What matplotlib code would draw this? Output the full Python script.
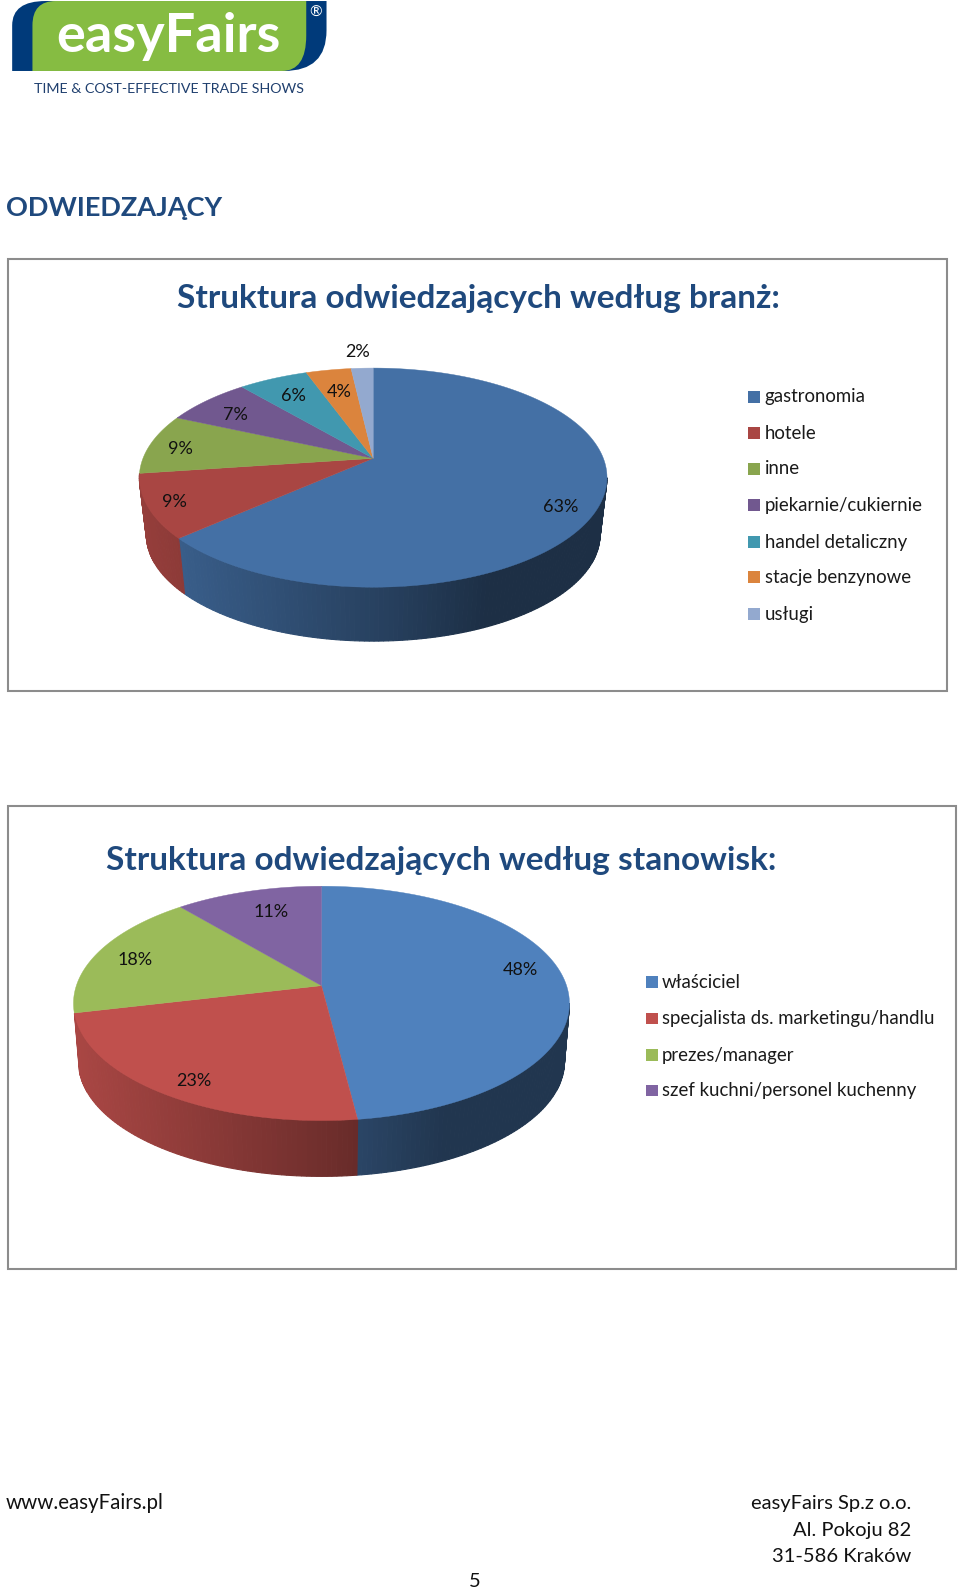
import numpy as np
import matplotlib
matplotlib.use('Agg')
import matplotlib.pyplot as plt
from matplotlib.path import Path
from matplotlib.patches import PathPatch, Rectangle
from matplotlib.colors import to_rgb

plt.rcParams['font.family'] = ['Lato', 'Open Sans', 'DejaVu Sans']

# top chart data
branze = ['gastronomia', 'hotele', 'inne', 'piekarnie/cukiernie',
          'handel detaliczny', 'stacje benzynowe', 'usługi']
branze_values = [63.4, 9.4, 8.9, 7.1, 5.7, 3.7, 1.8]
branze_colors = ['#4470A5', '#A94643', '#89A54E', '#71588F', '#4198AF', '#DB843D', '#93A9CF']

# bottom chart data
stanowiska = ['właściciel', 'specjalista ds. marketingu/handlu',
              'prezes/manager', 'szef kuchni/personel kuchenny']
stanowiska_values = [48.0, 23.3, 17.6, 11.1]
stanowiska_colors = ['#4F81BD', '#C0504D', '#9BBB59', '#8064A2']

NAVY = '#1F497D'

fig = plt.figure(figsize=(9.6, 15.89), dpi=100)
ax = fig.add_axes([0, 0, 1, 1])
ax.set_xlim(0, 946.7)
ax.set_ylim(1567, 0)
ax.axis('off')


def project(angle, g):
    # circle seen in perspective, angle runs clockwise from the top
    u, v = np.sin(angle), np.cos(angle)
    w = 1 + g['k'] * v
    return g['R'] * u / w, -g['S'] * v / w


def pie3d(values, colors, g):
    cum = np.cumsum([0] + list(values)) / sum(values) * 2 * np.pi
    # only the front part of the wall is visible
    a_right = np.arccos(-g['k'])
    a_left = 2 * np.pi - np.arccos(g['v0'])
    for i, col in enumerate(colors):
        lo, hi = max(cum[i], a_right), min(cum[i + 1], a_left)
        if lo >= hi:
            continue
        n = max(int((hi - lo) / np.radians(1)), 2)
        a = np.linspace(lo, hi, n)
        x, y = project(a, g)
        rgb = np.array(to_rgb(col))
        for j in range(n - 1):
            t = (x[j] + g['R']) / (2 * g['R'])
            f = np.interp(t, [0, .55, .75, 1], [.88, .56, .42, .42])
            px = [x[j], x[j + 1], x[j + 1] * g['s'], x[j] * g['s']]
            py = [y[j], y[j + 1], y[j + 1] * g['s'] + g['d'], y[j] * g['s'] + g['d']]
            ax.fill(np.array(px) + g['cx'], np.array(py) + g['cy'], color=rgb * f, lw=.8)
    for i, col in enumerate(colors):
        a = np.linspace(cum[i], cum[i + 1], 200)
        x, y = project(a, g)
        ax.fill(np.r_[0, x] + g['cx'], np.r_[0, y] + g['cy'], color=col, lw=.3)


def legend(names, colors, x, ys, size):
    for name, col, y in zip(names, colors, ys):
        ax.add_patch(Rectangle((x, y - 5.5), 11.5, 11.5, color=col, lw=0))
        ax.text(x + 16, y + .5, name, fontsize=size, va='center', color='#1a1a1a')


# logo
codes = [Path.MOVETO, Path.LINETO, Path.CURVE3, Path.CURVE3, Path.LINETO, Path.LINETO,
         Path.CURVE3, Path.CURVE3, Path.CLOSEPOLY]
blue = [(12, 70), (12, 25), (12, 1), (45, 1), (322, 1), (322, 30), (322, 70), (280, 70), (12, 70)]
ax.add_patch(PathPatch(Path(blue, codes), fc='#003A7A', lw=0))
green = [(32, 70), (32, 25), (32, 1), (55, 1), (302, 1), (302, 35), (302, 70), (278, 70), (32, 70)]
ax.add_patch(PathPatch(Path(green, codes), fc='#86BC42', lw=0))
ax.text(166, 36, 'easyFairs', color='white', fontsize=39, ha='center', va='center', weight='bold')
ax.text(311, 13, '®', color='white', fontsize=11, ha='center', va='center')
ax.text(166.5, 88, 'TIME & COST-EFFECTIVE TRADE SHOWS', color='#1F3F6E', fontsize=10.3,
        ha='center', va='center')

ax.text(6, 205, 'ODWIEDZAJĄCY', color=NAVY, fontsize=19.5, weight='bold', va='center')

# frames
ax.add_patch(Rectangle((8, 255), 926, 426, fc='white', ec='#8C8C8C', lw=1.5))
ax.add_patch(Rectangle((8, 795), 935, 456, fc='white', ec='#8C8C8C', lw=1.5))

# top chart
ax.text(471.5, 294, 'Struktura odwiedzających według branż:', color=NAVY, fontsize=24,
        weight='bold', ha='center', va='center')
pie3d(branze_values, branze_colors,
      dict(cx=368, cy=452, R=227, S=104.7, k=.176, s=.97, d=57, v0=-.14))
spots = [(553, 500), (172, 495), (178, 443), (232, 409), (289, 391), (334, 387), (353, 347)]
for val, (x, y) in zip(branze_values, spots):
    ax.text(x, y, f'{round(val)}%', fontsize=13, ha='center', va='center', color='#111111')
legend(branze, branze_colors, 738, [391, 427, 462, 498, 534, 569, 605], 13.4)

# bottom chart
ax.text(435, 849, 'Struktura odwiedzających według stanowisk:', color=NAVY, fontsize=24,
        weight='bold', ha='center', va='center')
pie3d(stanowiska_values, stanowiska_colors,
      dict(cx=317, cy=972, R=241.7, S=112.9, k=.1515, s=.98, d=57.7, v0=-.235))
spots = [(513, 957), (191, 1066), (133, 947), (267, 899)]
for val, (x, y) in zip(stanowiska_values, spots):
    ax.text(x, y, f'{round(val)}%', fontsize=13, ha='center', va='center', color='#111111')
legend(stanowiska, stanowiska_colors, 637, [968, 1004, 1040, 1075], 13.4)

# footer
ax.text(6, 1482, 'www.easyFairs.pl', fontsize=14.8, va='center', color='#111111')
for y, line in zip([1483, 1509, 1535], ['easyFairs Sp.z o.o.', 'Al. Pokoju 82', '31-586 Kraków']):
    ax.text(899, y, line, fontsize=14.5, ha='right', va='center', color='#111111')
ax.text(468, 1560, '5', fontsize=14.5, ha='center', va='center', color='#111111')

fig.savefig('out.png', dpi=100, facecolor='white')
